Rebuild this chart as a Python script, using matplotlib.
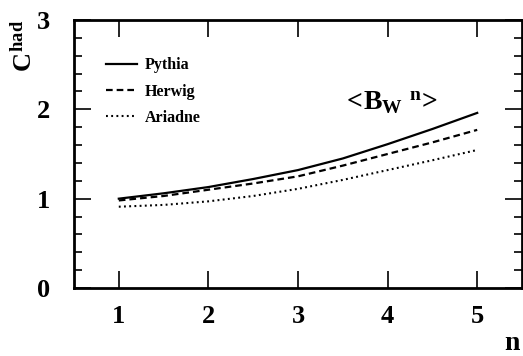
import numpy as np
import matplotlib.pyplot as plt
from matplotlib.ticker import MultipleLocator

plt.rcParams['font.family'] = 'Liberation Serif'
plt.rcParams['font.weight'] = 'bold'
plt.rcParams['mathtext.fontset'] = 'custom'
plt.rcParams['mathtext.rm'] = 'Liberation Serif:bold'
plt.rcParams['mathtext.bf'] = 'Liberation Serif:bold'
plt.rcParams['mathtext.it'] = 'Liberation Serif:bold'

# values
n_vals = [1.0, 1.5, 2.0, 2.5, 3.0, 3.5, 4.0, 4.5, 5.0]
pythia = [1.00, 1.06, 1.13, 1.22, 1.32, 1.45, 1.61, 1.78, 1.96]
herwig = [0.98, 1.03, 1.10, 1.17, 1.25, 1.37, 1.50, 1.63, 1.77]
ariadne = [0.91, 0.93, 0.97, 1.03, 1.11, 1.21, 1.32, 1.43, 1.545]

fig = plt.figure(figsize=(5.23, 3.56), dpi=100)
ax = fig.add_axes([74 / 523, 68 / 356, 448 / 523, 268 / 356])

ax.plot(n_vals, pythia, color='black', lw=1.6, ls='-', label='Pythia')
ax.plot(n_vals, herwig, color='black', lw=1.6, dashes=(3, 1.8), label='Herwig')
ax.plot(n_vals, ariadne, color='black', lw=1.5, dashes=(0.9, 1.6), label='Ariadne')

ax.set_xlim(0.5, 5.5)
ax.set_ylim(0, 3)
ax.xaxis.set_major_locator(MultipleLocator(1))
ax.yaxis.set_major_locator(MultipleLocator(1))
ax.yaxis.set_minor_locator(MultipleLocator(0.2))
ax.tick_params(axis='both', which='both', direction='in', top=True, right=True,
               width=1.2, labelsize=19)
ax.tick_params(axis='x', which='major', length=12, pad=12)
ax.tick_params(axis='y', which='major', length=12, pad=17)
ax.tick_params(axis='y', which='minor', length=6)
for s in ax.spines.values():
    s.set_linewidth(2)

leg = ax.legend(loc='upper left', bbox_to_anchor=(0.04, 0.915), frameon=False,
                fontsize=11.5, handlelength=1.9, handletextpad=0.5, labelspacing=0.65)

ax.text(0.705, 0.69, r'$<\!B_{W}{}^{\;\,n}\!>$', transform=ax.transAxes,
        fontsize=20, ha='center', va='center')

fig.text(24 / 523, 1 - 46 / 356, r'$C^{had}$', rotation=90, fontsize=19,
         ha='center', va='center')
fig.text(520 / 523, 1 - 343 / 356, 'n', fontsize=20, ha='right', va='center')

fig.savefig('out.png', dpi=100)
